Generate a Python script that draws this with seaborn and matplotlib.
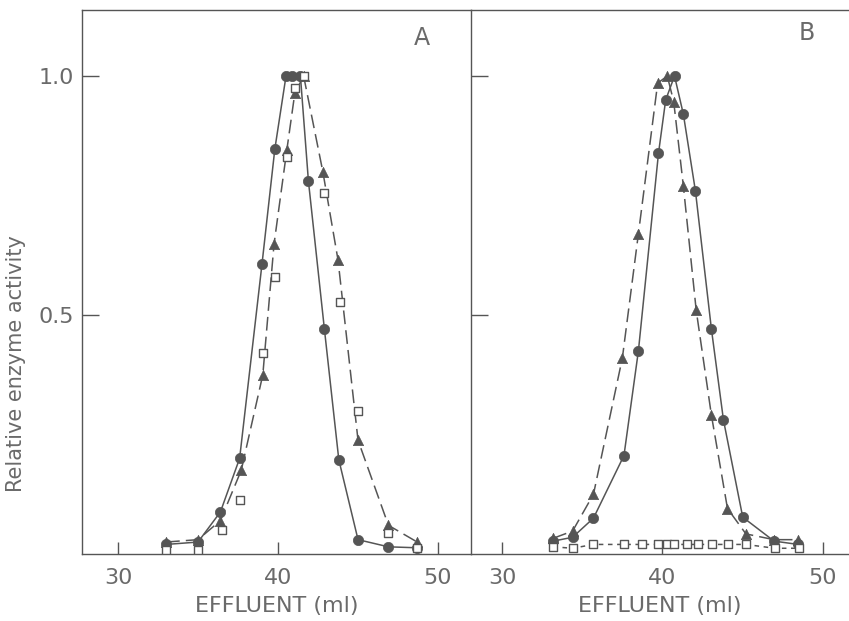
import numpy as np
import pandas as pd
import matplotlib.pyplot as plt
import seaborn as sns

# panel A - effluent (ml) and relative activity
a_circ_x = [33.0, 35.0, 36.4, 37.6, 39.0, 39.8, 40.5, 40.9, 41.4, 41.9, 42.9, 43.8, 45.0, 46.9, 48.7]
a_circ_y = [0.02, 0.025, 0.088, 0.20, 0.607, 0.847, 1.0, 1.0, 1.0, 0.78, 0.47, 0.197, 0.03, 0.015, 0.013]
a_tri_x = [33.0, 35.0, 36.4, 37.7, 39.05, 39.75, 40.55, 41.05, 41.6, 42.8, 43.75, 45.0, 46.9, 48.7]
a_tri_y = [0.025, 0.03, 0.07, 0.175, 0.375, 0.648, 0.845, 0.964, 1.0, 0.80, 0.615, 0.238, 0.06, 0.025]
a_sq_x = [33.0, 35.0, 36.5, 37.6, 39.05, 39.8, 40.55, 41.05, 41.6, 42.9, 43.9, 45.0, 46.9, 48.7]
a_sq_y = [0.008, 0.008, 0.05, 0.113, 0.42, 0.58, 0.83, 0.975, 1.0, 0.755, 0.527, 0.30, 0.044, 0.013]

# panel B
b_circ_x = [33.2, 34.4, 35.7, 37.6, 38.5, 39.75, 40.2, 40.75, 41.3, 42.05, 43.05, 43.8, 45.0, 46.95, 48.45]
b_circ_y = [0.027, 0.035, 0.075, 0.206, 0.425, 0.838, 0.95, 1.0, 0.92, 0.76, 0.47, 0.28, 0.077, 0.027, 0.02]
b_tri_x = [33.2, 34.4, 35.7, 37.5, 38.5, 39.7, 40.3, 40.7, 41.3, 42.1, 43.05, 44.05, 45.2, 46.95, 48.45]
b_tri_y = [0.033, 0.048, 0.125, 0.41, 0.67, 0.985, 1.0, 0.946, 0.77, 0.51, 0.29, 0.095, 0.042, 0.03, 0.03]
b_sq_x = [33.2, 34.4, 35.7, 37.6, 38.7, 39.7, 40.3, 40.7, 41.5, 42.2, 43.1, 44.1, 45.2, 47.0, 48.5]
b_sq_y = [0.015, 0.012, 0.02, 0.02, 0.02, 0.02, 0.02, 0.02, 0.02, 0.02, 0.02, 0.02, 0.02, 0.012, 0.012]

xticks = [30, 40, 50]
yticks = [0.5, 1.0]

ink = "#555555"
txt = "#6a6a6a"

sns.set_style("ticks")
plt.rcParams['font.family'] = ['DejaVu Sans']

fig = plt.figure(figsize=(8.49, 6.21), dpi=100)
bottom = 1 - 554 / 621
height = (554 - 10) / 621
axA = fig.add_axes([82 / 849, bottom, (471 - 82) / 849, height])
axB = fig.add_axes([471 / 849, bottom, (849 - 471) / 849, height])

long_dash = (0, (9, 4))
short_dash = (0, (3, 3))


def series(ax, x, y, marker, ls, open_marker=False, size=55):
    if ls is not None:
        sns.lineplot(x=x, y=y, ax=ax, color=ink, lw=1.1, linestyle=ls,
                     sort=False, estimator=None)
    if open_marker:
        sns.scatterplot(x=x, y=y, ax=ax, marker=marker, s=size,
                        facecolor="white", edgecolor=ink, linewidth=1.0, zorder=3)
    else:
        sns.scatterplot(x=x, y=y, ax=ax, marker=marker, s=size,
                        color=ink, edgecolor=ink, linewidth=0.5, zorder=3)


# A
series(axA, a_circ_x, a_circ_y, "o", "-")
series(axA, a_tri_x, a_tri_y, "^", long_dash)
series(axA, a_sq_x, a_sq_y, "s", None, open_marker=True, size=30)

# B
series(axB, b_circ_x, b_circ_y, "o", "-")
series(axB, b_tri_x, b_tri_y, "^", long_dash)
series(axB, b_sq_x, b_sq_y, "s", short_dash, open_marker=True, size=30)

axA.set_xlim(27.75, 52.06)
axB.set_xlim(28.07, 51.62)
for ax in (axA, axB):
    ax.set_ylim(0, 1.138)
    ax.set_xticks(xticks)
    ax.set_yticks(yticks)
    ax.tick_params(direction="in", length=9, width=1.0, color=ink,
                   labelcolor=txt, labelsize=16, pad=10)
    ax.tick_params(axis="y", length=12, pad=6)
    ax.set_xlabel("EFFLUENT (ml)", fontsize=16, color=txt, labelpad=6)
    ax.set_ylabel("")
    for s in ax.spines.values():
        s.set_color(ink)
        s.set_linewidth(1.0)

axA.set_yticklabels(["0.5", "1.0"])
axB.set_yticklabels([])
axA.spines["right"].set_visible(False)
axB.spines["right"].set_visible(False)

axA.set_ylabel("Relative enzyme activity", fontsize=15, color=txt)
axA.yaxis.set_label_coords(-0.143, 0.35)

axA.text(49.0, 1.08, "A", fontsize=17, color=txt, ha="center", va="center")
axB.text(49.0, 1.09, "B", fontsize=17, color=txt, ha="center", va="center")

fig.savefig("out.png", dpi=100)
